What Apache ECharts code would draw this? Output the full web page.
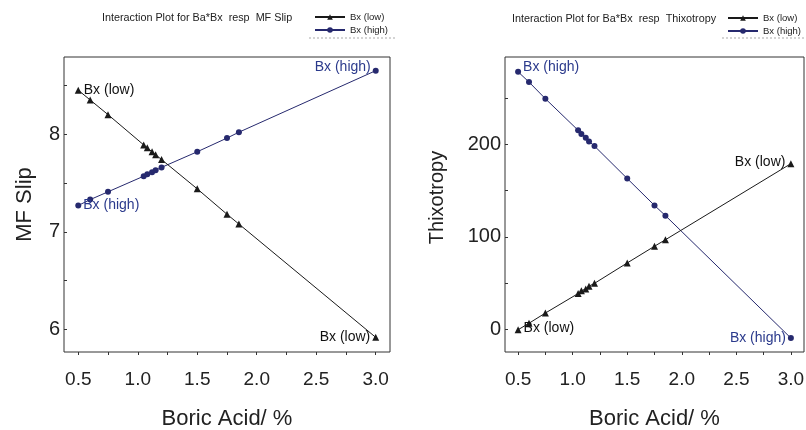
<!DOCTYPE html>
<html><head><meta charset="utf-8">
<script src="https://cdn.jsdelivr.net/npm/echarts@6/dist/echarts.min.js"></script>
<style>html,body{margin:0;padding:0;background:#fff}#c{width:806px;height:430px}</style>
</head><body><div id="c"></div>
<script>
const boricAcid = [0.5, 0.6, 0.75, 1.05, 1.08, 1.12, 1.15, 1.2, 1.5, 1.75, 1.85, 3.0];
const mfSlipLow = [8.45, 8.35, 8.20, 7.89, 7.86, 7.82, 7.79, 7.74, 7.44, 7.18, 7.08, 5.92];
const mfSlipHigh = [7.27, 7.33, 7.41, 7.57, 7.59, 7.61, 7.63, 7.66, 7.82, 7.96, 8.02, 8.65];
const thixLow = [0, 7, 18, 39, 42, 44, 47, 50, 72, 90, 97, 179];
const thixHigh = [278, 267, 249, 215, 211, 207, 203, 198, 163, 134, 123, -9];
const xTickLabels = [0.5, 1.0, 1.5, 2.0, 2.5, 3.0];
const xTicks = [0.5, 0.75, 1.0, 1.25, 1.5, 1.75, 2.0, 2.25, 2.5, 2.75, 3.0];
const mfTickLabels = [6, 7, 8];
const mfTicks = [6, 6.5, 7, 7.5, 8, 8.5];
const thixTickLabels = [0, 100, 200];
const thixTicks = [0, 50, 100, 150, 200, 250];
const titles = ['Interaction Plot for Ba*Bx  resp  MF Slip', 'Interaction Plot for Ba*Bx  resp  Thixotropy'];
const names = ['Bx (low)', 'Bx (high)'];

const FONT = "'Liberation Sans', Arial, sans-serif";
const LOW_C = '#1a1a1a', HIGH_C = '#26296e';
const LABEL_C = {low: '#111', high: '#2b3a8c'};

function build(ys, startLbl, endLbl, color) {
  return boricAcid.map((x, i) => {
    const item = {value: [x, ys[i]]};
    let l = null;
    if (i === 0) l = startLbl;
    if (i === boricAcid.length - 1) l = endLbl;
    if (l) item.label = Object.assign({show: true, formatter: '{a}', color: color, fontSize: 14, fontFamily: FONT}, l);
    return item;
  });
}

function xAxis(gi) {
  return {
    gridIndex: gi, type: 'value', min: 0.38, max: 3.12,
    axisLine: {show: false, onZero: false}, splitLine: {show: false},
    axisTick: {show: true, inside: false, length: 3, customValues: xTicks, lineStyle: {color: '#333', width: 1}},
    axisLabel: {customValues: xTickLabels, formatter: v => v.toFixed(1), fontSize: 19, color: '#222', fontFamily: FONT, margin: 18},
    name: 'Boric Acid/ %', nameLocation: 'middle', nameGap: 56,
    nameTextStyle: {fontSize: 22, color: '#222', fontFamily: FONT}
  };
}
function yAxis(gi, min, max, ticks, labels, name, gap, nameStyle) {
  return {
    gridIndex: gi, type: 'value', min: min, max: max,
    axisLine: {show: false, onZero: false}, splitLine: {show: false},
    axisTick: {show: true, inside: true, length: 3, customValues: ticks, lineStyle: {color: '#333'}},
    axisLabel: {customValues: labels, fontSize: 20, color: '#222', fontFamily: FONT, margin: 4},
    name: name, nameLocation: 'middle', nameGap: gap,
    nameTextStyle: Object.assign({fontSize: 22, color: '#222', fontFamily: FONT}, nameStyle || {})
  };
}
function series(gi, name, ys, startLbl, endLbl, isLow) {
  const c = isLow ? LOW_C : HIGH_C;
  return {
    type: 'line', name: name, xAxisIndex: gi, yAxisIndex: gi,
    data: build(ys, startLbl, endLbl, isLow ? LABEL_C.low : LABEL_C.high),
    symbol: isLow ? 'triangle' : 'circle', symbolSize: isLow ? 7 : 6,
    lineStyle: {color: c, width: 1}, itemStyle: {color: c},
    emphasis: {disabled: true}, animation: false, z: isLow ? 3 : 2
  };
}

const legendStyle = {fontSize: 9.5, color: '#222', fontFamily: FONT};
const chart = echarts.init(document.getElementById('c'), null, {renderer: 'canvas'});
chart.setOption({
  backgroundColor: '#fff',
  animation: false,
  title: [
    {text: titles[0], left: 97, top: 8, textStyle: {fontSize: 10.8, fontWeight: 'normal', color: '#222', fontFamily: FONT}},
    {text: titles[1], left: 507, top: 9, textStyle: {fontSize: 10.8, fontWeight: 'normal', color: '#222', fontFamily: FONT}}
  ],
  legend: [
    {data: names, left: 309, top: 7, orient: 'vertical', itemGap: 3, itemWidth: 30, itemHeight: 7,
     textStyle: legendStyle, selectedMode: false},
    {data: names, left: 722, top: 8, orient: 'vertical', itemGap: 3, itemWidth: 30, itemHeight: 7,
     textStyle: legendStyle, selectedMode: false}
  ],
  graphic: [
    {type: 'line', shape: {x1: 309, y1: 38, x2: 396, y2: 38}, style: {stroke: '#aaa', lineWidth: 1, lineDash: [2, 2]}, silent: true},
    {type: 'line', shape: {x1: 722, y1: 38, x2: 806, y2: 38}, style: {stroke: '#aaa', lineWidth: 1, lineDash: [2, 2]}, silent: true}
  ],
  grid: [
    {left: 64, top: 57, width: 326, height: 295, show: true, borderColor: '#333', borderWidth: 1, backgroundColor: 'transparent', outerBoundsMode: 'none', containLabel: false},
    {left: 505, top: 57, width: 299, height: 295, show: true, borderColor: '#333', borderWidth: 1, backgroundColor: 'transparent', outerBoundsMode: 'none', containLabel: false}
  ],
  xAxis: [xAxis(0), xAxis(1)],
  yAxis: [
    yAxis(0, 5.77, 8.79, mfTicks, mfTickLabels, 'MF Slip', 28),
    yAxis(1, -24, 294, thixTicks, thixTickLabels, 'Thixotropy', 58, {fontSize: 20, padding: [0, 0, 0, 14]})
  ],
  series: [
    series(0, names[0], mfSlipLow, {position: 'right', distance: 2}, {position: 'left', distance: 2}, true),
    series(0, names[1], mfSlipHigh, {position: 'right', distance: 2}, {position: 'left', distance: 2, offset: [0, -4]}, false),
    series(1, names[0], thixLow, {position: 'right', distance: 2, offset: [0, -2]}, {position: 'left', distance: 2, offset: [0, -2]}, true),
    series(1, names[1], thixHigh, {position: 'right', distance: 2, offset: [0, -5]}, {position: 'left', distance: 2}, false)
  ]
});
</script></body></html>
